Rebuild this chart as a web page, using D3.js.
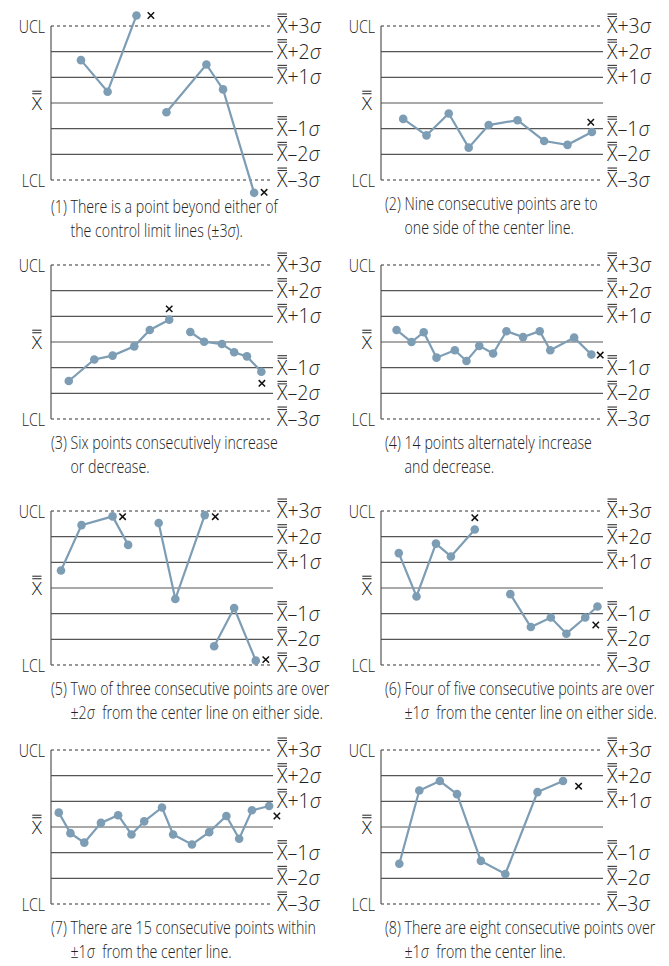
<!DOCTYPE html>
<html>
<head>
<meta charset="utf-8">
<script src="https://cdn.jsdelivr.net/npm/d3@7"></script>
<style>
  body { margin: 0; background: #fff; }
  text { font-family: "Open Sans", "Noto Sans", sans-serif; font-weight: 300; fill: #222; }
</style>
</head>
<body>
<div id="chart"></div>
<script>
// reference lines, in sigma units from the center line
var levels = [3, 2, 1, 0, -1, -2, -3];
var levelTails = ["+3", "+2", "+1", "", "\u20131", "\u20132", "\u20133"];

// points: x in time units (0-20), y in sigma units; null breaks the line
var x1 = [2.7, 5.1, 7.7, null, 10.4, 14.0, 15.5, 18.3];
var y1 = [1.67, 0.44, 3.41, null, -0.36, 1.5, 0.53, -3.5];
var crossX1 = [9.0, 19.2];
var crossY1 = [3.41, -3.48];

var x2 = [2.0, 4.1, 6.1, 7.9, 9.7, 12.3, 14.7, 16.8, 19.0];
var y2 = [-0.62, -1.26, -0.41, -1.74, -0.86, -0.67, -1.48, -1.63, -1.13];
var crossX2 = [18.9];
var crossY2 = [-0.75];

var x3 = [1.6, 3.9, 5.55, 7.5, 8.9, 10.65, null, 12.55, 13.8, 15.4, 16.5, 17.65, 18.95];
var y3 = [-1.52, -0.68, -0.53, -0.17, 0.47, 0.87, null, 0.39, 0.01, -0.08, -0.40, -0.56, -1.16];
var crossX3 = [10.65, 19.0];
var crossY3 = [1.29, -1.61];

var x4 = [1.4, 2.75, 3.85, 5.0, 6.65, 7.7, 8.85, 10.1, 11.3, 12.8, 14.3, 15.25, 17.4, 18.95];
var y4 = [0.47, 0.0, 0.38, -0.61, -0.32, -0.74, -0.15, -0.45, 0.42, 0.19, 0.42, -0.32, 0.17, -0.49];
var crossX4 = [19.75];
var crossY4 = [-0.51];

var x5 = [0.9, 2.75, 5.55, 6.95, null, 9.7, 11.2, 13.85, null, 14.7, 16.5, 18.45];
var y5 = [0.68, 2.45, 2.79, 1.68, null, 2.53, -0.43, 2.84, null, -2.27, -0.78, -2.83];
var crossX5 = [6.45, 14.8, 19.35];
var crossY5 = [2.78, 2.78, -2.79];

var x6 = [1.6, 3.2, 4.95, 6.3, 8.45, null, 11.65, 13.5, 15.3, 16.7, 18.4, 19.5];
var y6 = [1.36, -0.33, 1.73, 1.23, 2.28, null, -0.24, -1.52, -1.15, -1.78, -1.15, -0.72];
var crossX6 = [8.45, 19.35];
var crossY6 = [2.74, -1.44];

var x7 = [0.7, 1.75, 3.0, 4.5, 6.05, 7.25, 8.4, 10.0, 11.0, 12.7, 14.25, 15.8, 16.95, 18.1, 19.65];
var y7 = [0.56, -0.24, -0.61, 0.16, 0.46, -0.29, 0.22, 0.76, -0.29, -0.68, -0.2, 0.43, -0.46, 0.65, 0.82];
var crossX7 = [20.35];
var crossY7 = [0.43];

var x8 = [1.65, 3.45, 5.3, 6.85, 9.0, 11.2, 14.1, 16.4];
var y8 = [-1.43, 1.42, 1.79, 1.28, -1.32, -1.83, 1.36, 1.79];
var crossX8 = [17.8];
var crossY8 = [1.59];

var captionHeads = ["(1)", "(2)", "(3)", "(4)", "(5)", "(6)", "(7)", "(8)"];
var captionFirst = [
  "There is a point beyond either of",
  "Nine consecutive points are to",
  "Six points consecutively increase",
  "14 points alternately increase",
  "Two of three consecutive points are over",
  "Four of five consecutive points are over",
  "There are 15 consecutive points within",
  "There are eight consecutive points over"
];
var captionSecond = [
  "the control limit lines (\u00b13\u03c3).",
  "one side of the center line.",
  "or decrease.",
  "and decrease.",
  "\u00b12\u03c3\u00a0 from the center line on either side.",
  "\u00b11\u03c3\u00a0 from the center line on either side.",
  "\u00b11\u03c3\u00a0 from the center line.",
  "\u00b11\u03c3\u00a0 from the center line."
];

var panels = [
  {xs: x1, ys: y1, cx: crossX1, cy: crossY1},
  {xs: x2, ys: y2, cx: crossX2, cy: crossY2},
  {xs: x3, ys: y3, cx: crossX3, cy: crossY3},
  {xs: x4, ys: y4, cx: crossX4, cy: crossY4},
  {xs: x5, ys: y5, cx: crossX5, cy: crossY5},
  {xs: x6, ys: y6, cx: crossX6, cy: crossY6},
  {xs: x7, ys: y7, cx: crossX7, cy: crossY7},
  {xs: x8, ys: y8, cx: crossX8, cy: crossY8}
];

var W = 669, H = 966;
var colX = [51, 381], rowY = [26, 265, 511, 750];
var plotW = 222, plotH = 154;
var blue = "#7d9db5";
var fs = 18.5, capFs = 17.5;

var svg = d3.select("#chart").append("svg")
    .attr("width", W)
    .attr("height", H);

var x = d3.scaleLinear().domain([0, 20]).range([0, plotW]);
var y = d3.scaleLinear().domain([-3, 3]).range([plotH, 0]);

// squeeze the text horizontally so it looks like the condensed face of the original
function squeeze(size) {
    var probe = svg.append("text").style("font-size", size + "px").text("(1) There is a point beyond either of");
    var w = probe.node().getComputedTextLength();
    probe.remove();
    return 227 / w;
}
var k = squeeze(fs), kCap = squeeze(capFs);

// adds text with an italic sigma; the first tspan can carry x / dy
function richText(sel, str, first) {
    var parts = str.split("\u03c3");
    var spans = [];
    parts.forEach(function(s, i) {
        if (i > 0) spans.push(sel.append("tspan").style("font-style", "italic").text("\u03c3"));
        if (s) spans.push(sel.append("tspan").text(s));
    });
    if (first) spans[0].attr("x", first.x).attr("dy", first.dy);
}

// X with a double bar, optional tail like "+3" sigma
function xbar(parent, tx, ty, size, anchorEnd, tail) {
    var g = parent.append("g").attr("transform", "translate(" + tx + "," + ty + ")");
    var cap = size * 0.714;
    var t = g.append("text")
        .attr("y", cap / 2)
        .style("font-size", size + "px")
        .attr("text-anchor", anchorEnd ? "end" : "start");
    t.append("tspan").text("X");
    if (tail) {
        t.append("tspan").text(tail);
        t.append("tspan").style("font-style", "italic").text("\u03c3");
    }
    var wx = t.node().getSubStringLength(0, 1);
    var x0 = anchorEnd ? -wx : 0;
    [2.5, 5].forEach(function(off) {
        g.append("line")
            .attr("x1", x0 + 0.5).attr("x2", x0 + wx - 0.5)
            .attr("y1", -cap / 2 - off).attr("y2", -cap / 2 - off)
            .attr("stroke", "#333")
            .attr("stroke-width", 1.1);
    });
}

var line = d3.line()
    .defined(function(d) { return d.y != null; })
    .x(function(d) { return x(d.x); })
    .y(function(d) { return y(d.y); });

panels.forEach(function(p, i) {
    var col = i % 2, row = Math.floor(i / 2);
    var g = svg.append("g")
        .attr("transform", "translate(" + colX[col] + "," + rowY[row] + ")");

    g.selectAll(".level")
        .data(levels)
        .enter().append("line")
        .attr("class", "level")
        .attr("x1", 0)
        .attr("x2", plotW)
        .attr("y1", function(d) { return y(d); })
        .attr("y2", function(d) { return y(d); })
        .attr("stroke", function(d) { return Math.abs(d) == 3 ? "#333" : "#555"; })
        .attr("stroke-width", 1.2)
        .attr("stroke-dasharray", function(d) { return Math.abs(d) == 3 ? "3,3" : null; });

    g.append("line")
        .attr("x1", 0).attr("x2", 0)
        .attr("y1", y(3)).attr("y2", y(-3))
        .attr("stroke", "#555")
        .attr("stroke-width", 1.2);

    // left labels
    [["UCL", 3], ["LCL", -3]].forEach(function(l) {
        g.append("g")
            .attr("transform", "translate(-6," + y(l[1]) + ") scale(" + k + ",1)")
            .append("text")
            .attr("y", fs * 0.357)
            .attr("text-anchor", "end")
            .style("font-size", fs + "px")
            .text(l[0]);
    });
    xbar(g, -9, y(0), 19, true, null);

    // right labels
    levels.forEach(function(d, j) {
        if (d === 0) return;
        xbar(g, plotW + 4, y(d), 19.5, false, levelTails[j]);
    });

    var pts = p.xs.map(function(v, j) { return {x: v, y: p.ys[j]}; });

    g.append("path")
        .datum(pts)
        .attr("d", line)
        .attr("fill", "none")
        .attr("stroke", blue)
        .attr("stroke-width", 2.2);

    g.selectAll(".dot")
        .data(pts.filter(function(d) { return d.y != null; }))
        .enter().append("circle")
        .attr("class", "dot")
        .attr("cx", function(d) { return x(d.x); })
        .attr("cy", function(d) { return y(d.y); })
        .attr("r", 4.3)
        .attr("fill", blue);

    g.selectAll(".cross")
        .data(p.cx.map(function(v, j) { return {x: v, y: p.cy[j]}; }))
        .enter().append("path")
        .attr("class", "cross")
        .attr("transform", function(d) { return "translate(" + x(d.x) + "," + y(d.y) + ")"; })
        .attr("d", "M-3.2,-3.2L3.2,3.2M-3.2,3.2L3.2,-3.2")
        .attr("stroke", "#111")
        .attr("stroke-width", 1.5);

    // caption with hanging indent, both lines in one text element
    var capG = svg.append("g")
        .attr("transform", "translate(" + (colX[col] + col * 4) + "," + (rowY[row] + plotH + (i === 0 ? 33 : 30)) + ") scale(" + kCap + ",1)");
    var head = captionHeads[i] + " ";
    var t = capG.append("text").style("font-size", capFs + "px");
    richText(t, head + captionFirst[i]);
    var indent = t.node().getSubStringLength(0, head.length);
    richText(t, captionSecond[i], {x: indent, dy: 24});
});
</script>
</body>
</html>
